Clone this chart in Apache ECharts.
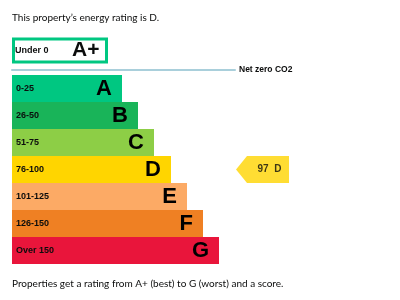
<!DOCTYPE html>
<html><head><meta charset="utf-8">
<script src="https://cdn.jsdelivr.net/npm/echarts@6/dist/echarts.min.js"></script>
<style>html,body{margin:0;padding:0;background:#fff}#c{width:400px;height:300px}</style>
</head><body><div id="c"></div>
<script>
// ---- data ----
var bandLetters = ['A', 'B', 'C', 'D', 'E', 'F', 'G'];
var bandRanges = ['0-25', '26-50', '51-75', '76-100', '101-125', '126-150', 'Over 150'];
var bandLengths = [110, 126, 142, 159, 175, 191, 207];
var bandColors = ['#00c781', '#19b459', '#8dce46', '#ffd500', '#fcaa65', '#ef8023', '#e9153b'];
var topBand = ['A+'];
var topRange = ['Under 0'];
var topLength = [96];
var currentScore = [97];
var currentRating = ['D'];

var chart = echarts.init(document.getElementById('c'), null, {renderer: 'canvas'});
var labelFont = '"Liberation Sans", Arial, sans-serif';
var textFont = 'Lato, "Noto Sans", sans-serif';
var markerX = 250.5;

chart.setOption({
  animation: false,
  title: [
    {text: "This property\u2019s energy rating is D.", left: 7, top: 8,
     textStyle: {fontSize: 10, fontWeight: 'normal', color: '#0b0c0c', fontFamily: textFont}},
    {text: 'Properties get a rating from A+ (best) to G (worst) and a score.', left: 7, top: 274,
     textStyle: {fontSize: 10, fontWeight: 'normal', color: '#0b0c0c', fontFamily: textFont}}
  ],
  grid: [
    {left: 12, top: 36, width: 223, height: 29},
    {left: 12, top: 75, width: 388, height: 189}
  ],
  xAxis: [
    {gridIndex: 0, type: 'value', min: 0, max: 223, offset: 5,
     axisLine: {show: true, lineStyle: {color: '#a9cfdb', width: 2}},
     axisTick: {show: false}, axisLabel: {show: false}, splitLine: {show: false},
     name: 'Net zero CO2', nameLocation: 'end', nameGap: 4,
     nameTextStyle: {fontSize: 8.5, fontWeight: 'bold', color: '#0b0c0c', fontFamily: labelFont}},
    {gridIndex: 1, type: 'value', min: 0, max: 388, show: false}
  ],
  yAxis: [
    {gridIndex: 0, type: 'category', data: topBand, show: false},
    {gridIndex: 1, type: 'category', data: bandLetters, inverse: true, show: false}
  ],
  series: [
    {type: 'bar', xAxisIndex: 0, yAxisIndex: 0, barWidth: 26,
     data: topLength.map(function (v, i) { return {value: v, name: topBand[i]}; }),
     itemStyle: {color: '#fff', borderColor: '#00c781', borderWidth: 3},
     label: {show: true, position: 'insideLeft', distance: 3,
       formatter: function (p) { return '{r|' + topRange[p.dataIndex] + '}{l|' + topBand[p.dataIndex] + '}'; },
       rich: {
         r: {fontSize: 9, fontWeight: 'bold', color: '#0b0c0c', fontFamily: labelFont, width: 57},
         l: {fontSize: 21, fontWeight: 'bold', color: '#0b0c0c', fontFamily: labelFont}
       }}
    },
    {type: 'bar', xAxisIndex: 1, yAxisIndex: 1, barCategoryGap: 0,
     data: bandLengths.map(function (v, i) { return {value: v, itemStyle: {color: bandColors[i]}}; }),
     label: {show: true, position: 'insideLeft', distance: 4,
       formatter: function (p) { return bandRanges[p.dataIndex]; },
       fontSize: 9, fontWeight: 'bold', color: '#0b0c0c', fontFamily: labelFont}
    },
    {type: 'bar', xAxisIndex: 1, yAxisIndex: 1, barCategoryGap: 0, barGap: '-100%',
     data: bandLengths, itemStyle: {color: 'rgba(0,0,0,0)'},
     label: {show: true, position: 'insideRight', distance: 10,
       formatter: function (p) { return bandLetters[p.dataIndex]; },
       fontSize: 22, fontWeight: 'bold', color: '#000', fontFamily: labelFont}
    },
    {type: 'scatter', xAxisIndex: 1, yAxisIndex: 1,
     data: currentScore.map(function (s, i) { return {value: [markerX, currentRating[i]], score: s}; }),
     symbol: 'path://M0,13.5L11,0L53,0L53,27L11,27Z', symbolSize: [53, 27],
     itemStyle: {color: '#ffd500'},
     label: {show: true, position: 'inside', offset: [7, 0],
       formatter: function (p) { return currentScore[p.dataIndex] + '  ' + currentRating[p.dataIndex]; },
       fontSize: 10, fontWeight: 'bold', color: '#0b0c0c', fontFamily: labelFont}
    }
  ]
});
</script></body></html>
